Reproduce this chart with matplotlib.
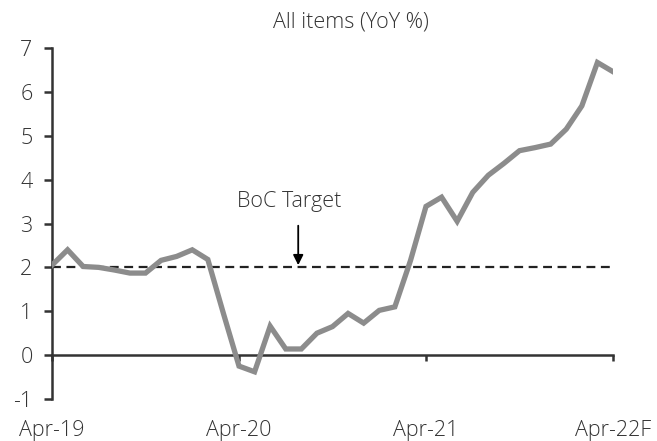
import matplotlib
matplotlib.use('Agg')
import matplotlib.pyplot as plt
import numpy as np

plt.rcParams['font.family'] = ['Open Sans', 'DejaVu Sans']
plt.rcParams['font.weight'] = 'light'
plt.rcParams['axes.unicode_minus'] = False

# monthly CPI, Apr-19 .. Apr-22 (last point is a forecast)
cpi = [2.05, 2.40, 2.02, 2.00, 1.94, 1.87, 1.87, 2.16, 2.25, 2.40,
       2.18, 0.95, -0.25, -0.38, 0.66, 0.14, 0.14, 0.50, 0.65, 0.95,
       0.73, 1.02, 1.10, 2.15, 3.39, 3.60, 3.05, 3.71, 4.10, 4.37,
       4.66, 4.73, 4.81, 5.15, 5.68, 6.67, 6.46]
tick_pos = [0, 12, 24, 36]
tick_labels = ['Apr-19', 'Apr-20', 'Apr-21', 'Apr-22F']
target = 2
ink = '#333333'
fs = 15.5

fig = plt.figure(figsize=(6.57, 4.41), dpi=100)
ax = fig.add_axes([52 / 657, 42 / 441, (613 - 52) / 657, (393 - 42) / 441])

x = np.arange(len(cpi))
ax.plot(x, cpi, color='#8c8c8c', lw=3.8, solid_joinstyle='miter', zorder=3)
ax.axhline(target, color='#222222', lw=1.6, ls=(0, (4, 2.5)), zorder=2)

ax.set_xlim(0, len(cpi) - 1)
ax.set_ylim(-1, 7)
ax.set_yticks(range(-1, 8))
ax.set_xticks(tick_pos)
ax.set_xticklabels(tick_labels)

for s in ['top', 'right']:
    ax.spines[s].set_visible(False)
ax.spines['bottom'].set_position(('data', 0))
for s in ['left', 'bottom']:
    ax.spines[s].set_color(ink)
    ax.spines[s].set_linewidth(1.8)
ax.spines['bottom'].set_zorder(1)

ax.tick_params(axis='y', direction='out', length=6, width=1.8, color=ink,
               labelcolor=ink, labelsize=fs, pad=8)
ax.tick_params(axis='x', direction='out', length=4.5, width=1.8, color=ink,
               labelcolor=ink, labelsize=fs, pad=42)

fig.text(351 / 657, 1 - 22 / 441, 'All items (YoY %)', ha='center', va='center',
         fontsize=fs, color=ink)

ax.annotate('', xy=(15.8, 2.05), xytext=(15.8, 2.95),
            arrowprops=dict(arrowstyle='-|>', color='black', lw=1.3,
                            mutation_scale=15, shrinkA=0, shrinkB=0))
ax.text(15.2, 3.5, 'BoC Target', ha='center', va='center', fontsize=fs, color=ink)

fig.savefig('out.png', dpi=100)
